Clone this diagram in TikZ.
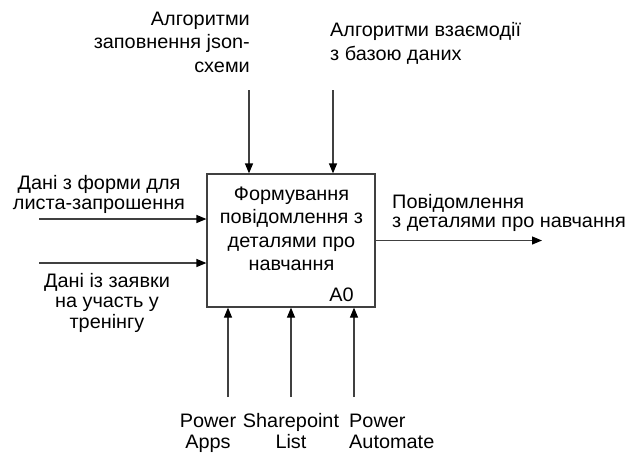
\documentclass[tikz,border=0pt]{standalone}
\usepackage{fontspec}
\setmainfont{Liberation Sans}[FakeStretch=1.02]
\usetikzlibrary{arrows.meta}
\begin{document}
\begin{tikzpicture}[x=1pt,y=-1pt,
  lbl/.style={inner sep=0pt, text=black, font=\fontsize{19.5}{#1}\selectfont},
  lbl/.default=23.4,
  flow/.style={draw=black!75, line width=1.2pt,
    -{Triangle[length=10pt,width=8pt,color=black]}},
  fnbox/.style={draw=black!75, line width=1.2pt, minimum width=168pt,
    minimum height=133pt, inner sep=0pt}]
\useasboundingbox (0,0) rectangle (625,456);

% function block A0 (multi-line labels are placed by their last baseline)
\node[fnbox] (A) at (291,240.5) {};
\node[lbl=23.2, anchor=base, align=center] (Atitle) at (291.5,270.3)
  {Формування\\повідомлення з\\деталями про\\навчання};
\node[lbl, anchor=base east] (Anum) at (354,301.7) {A0};

% controls (top)
\coordinate (c1) at (249,90);
\coordinate (c2) at (333,90);
\draw[flow] (c1) -- (c1 |- A.north);
\draw[flow] (c2) -- (c2 |- A.north);
\node[lbl=23.5, anchor=base east, align=right] (c1t) at (250,72)
  {Алгоритми\\заповнення json-\\схеми};
\node[lbl=23.3, anchor=base west, align=left] (c2t) at (330,60)
  {Алгоритми взаємодії\\з базою даних};

% inputs (left)
\coordinate (i1) at (39,219);
\coordinate (i2) at (39,263);
\draw[flow] (i1) -- (i1 -| A.west);
\draw[flow] (i2) -- (i2 -| A.west);
\node[lbl=20.5, anchor=base, align=center] (i1t) at (99,209.5)
  {Дані з форми для\\листа-запрошення};
\node[lbl=20.5, anchor=base, align=center] (i2t) at (107,328)
  {Дані із заявки\\на участь у\\тренінгу};

% output (right)
\coordinate (o1) at (542,240.5);
\draw[flow] (A.east) -- (o1);
\node[lbl=19, anchor=base west, align=left] (o1t) at (392,227)
  {Повідомлення\\з деталями про навчання};

% mechanisms (bottom)
\coordinate (m1) at (228,397);
\coordinate (m2) at (291,397);
\coordinate (m3) at (354,397);
\draw[flow] (m1) -- (m1 |- A.south);
\draw[flow] (m2) -- (m2 |- A.south);
\draw[flow] (m3) -- (m3 |- A.south);
\node[lbl=21, anchor=base, align=center] (m1t) at (208,448) {Power\\Apps};
\node[lbl=21, anchor=base, align=center] (m2t) at (291,448) {Sharepoint\\List};
\node[lbl=21, anchor=base west, align=left] (m3t) at (349,448) {Power\\Automate};
\end{tikzpicture}
\end{document}
